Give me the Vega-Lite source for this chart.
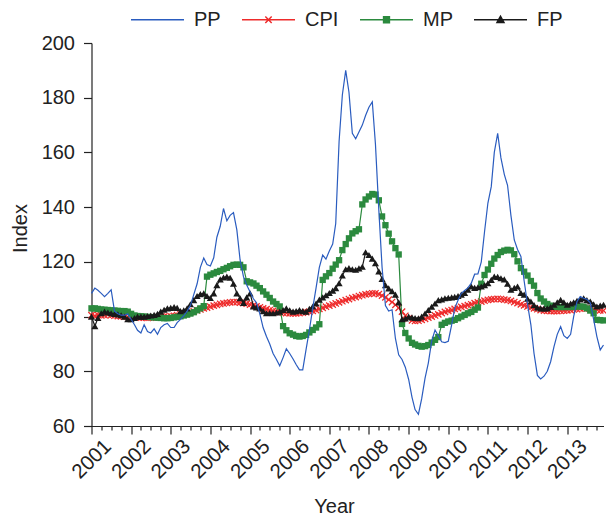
{
"$schema": "https://vega.github.io/schema/vega-lite/v6.json",
"width": 512, "height": 383,
"autosize": {"type": "none"},
"padding": {"left": 91.5, "top": 43, "right": 2.5, "bottom": 91},
"config": {"view": {"stroke": null}, "font": "Liberation Sans",
  "axis": {"grid": false, "domainColor": "#222", "tickColor": "#222", "labelColor": "#222", "titleColor": "#222", "titleFontWeight": "normal", "domainWidth": 1.2, "tickWidth": 1.2}},
"data": {"values": [
{"d":"2001-01-01","PP":108.5,"CPI":100.5,"MP":103,"FP":100},
{"d":"2001-02-01","PP":110.4,"CPI":100.3,"MP":103,"FP":96.5},
{"d":"2001-03-01","PP":109.6,"CPI":100.6,"MP":102.8,"FP":99.5},
{"d":"2001-04-01","PP":108.5,"CPI":100.4,"MP":102.6,"FP":101.2},
{"d":"2001-05-01","PP":107.3,"CPI":100.5,"MP":102.5,"FP":101.8},
{"d":"2001-06-01","PP":108.5,"CPI":100.7,"MP":102.4,"FP":101.5},
{"d":"2001-07-01","PP":109.8,"CPI":100.5,"MP":102.3,"FP":101.2},
{"d":"2001-08-01","PP":102,"CPI":100.3,"MP":102.2,"FP":101},
{"d":"2001-09-01","PP":101,"CPI":100.2,"MP":102.1,"FP":100.8},
{"d":"2001-10-01","PP":100.5,"CPI":100.1,"MP":102,"FP":100.5},
{"d":"2001-11-01","PP":100.5,"CPI":100,"MP":102,"FP":100},
{"d":"2001-12-01","PP":101,"CPI":99.9,"MP":101.8,"FP":99},
{"d":"2002-01-01","PP":99,"CPI":100,"MP":101,"FP":99},
{"d":"2002-02-01","PP":97,"CPI":99.8,"MP":100.4,"FP":99.5},
{"d":"2002-03-01","PP":95,"CPI":99.7,"MP":100.2,"FP":100},
{"d":"2002-04-01","PP":94,"CPI":99.6,"MP":100.1,"FP":100},
{"d":"2002-05-01","PP":97,"CPI":99.6,"MP":100,"FP":100},
{"d":"2002-06-01","PP":94.5,"CPI":99.5,"MP":99.9,"FP":100.2},
{"d":"2002-07-01","PP":94,"CPI":99.6,"MP":99.8,"FP":100.4},
{"d":"2002-08-01","PP":95.5,"CPI":99.7,"MP":99.7,"FP":100.6},
{"d":"2002-09-01","PP":93.5,"CPI":99.8,"MP":99.6,"FP":101},
{"d":"2002-10-01","PP":96,"CPI":99.9,"MP":99.5,"FP":101.8},
{"d":"2002-11-01","PP":97,"CPI":100,"MP":99.4,"FP":102.5},
{"d":"2002-12-01","PP":97.5,"CPI":100,"MP":99.4,"FP":103},
{"d":"2003-01-01","PP":96,"CPI":100.1,"MP":99.5,"FP":103.2},
{"d":"2003-02-01","PP":96,"CPI":100.3,"MP":99.7,"FP":103.5},
{"d":"2003-03-01","PP":97.8,"CPI":100.5,"MP":99.9,"FP":103.2},
{"d":"2003-04-01","PP":99,"CPI":100.8,"MP":100.1,"FP":102},
{"d":"2003-05-01","PP":100.3,"CPI":101,"MP":100.4,"FP":102.3},
{"d":"2003-06-01","PP":102,"CPI":101.3,"MP":100.7,"FP":103},
{"d":"2003-07-01","PP":104,"CPI":101.6,"MP":101.1,"FP":104.5},
{"d":"2003-08-01","PP":108,"CPI":101.9,"MP":101.6,"FP":106},
{"d":"2003-09-01","PP":112,"CPI":102.3,"MP":102.3,"FP":107.5},
{"d":"2003-10-01","PP":118,"CPI":102.6,"MP":103,"FP":108.2},
{"d":"2003-11-01","PP":121.4,"CPI":103,"MP":103.8,"FP":108.5},
{"d":"2003-12-01","PP":119,"CPI":103.3,"MP":114.6,"FP":107.5},
{"d":"2004-01-01","PP":118.5,"CPI":103.6,"MP":115.3,"FP":106.8},
{"d":"2004-02-01","PP":121.5,"CPI":104,"MP":115.8,"FP":108.5},
{"d":"2004-03-01","PP":129,"CPI":104.3,"MP":116.3,"FP":111.5},
{"d":"2004-04-01","PP":133,"CPI":104.6,"MP":116.7,"FP":113.6},
{"d":"2004-05-01","PP":139.5,"CPI":104.8,"MP":117.3,"FP":114.3},
{"d":"2004-06-01","PP":135,"CPI":105,"MP":117.8,"FP":114.6},
{"d":"2004-07-01","PP":137,"CPI":105.2,"MP":118.4,"FP":114.2},
{"d":"2004-08-01","PP":138,"CPI":105.3,"MP":118.9,"FP":112},
{"d":"2004-09-01","PP":131.7,"CPI":105.3,"MP":119,"FP":108.5},
{"d":"2004-10-01","PP":120.7,"CPI":105.1,"MP":118.9,"FP":106.7},
{"d":"2004-11-01","PP":114.6,"CPI":104.9,"MP":118,"FP":105},
{"d":"2004-12-01","PP":111.5,"CPI":104.7,"MP":112.9,"FP":107},
{"d":"2005-01-01","PP":109,"CPI":104.4,"MP":112.5,"FP":108.5},
{"d":"2005-02-01","PP":106.5,"CPI":104.1,"MP":112.1,"FP":103.7},
{"d":"2005-03-01","PP":105,"CPI":103.7,"MP":111.3,"FP":103.3},
{"d":"2005-04-01","PP":101,"CPI":103.4,"MP":110.4,"FP":103},
{"d":"2005-05-01","PP":96,"CPI":103,"MP":109.2,"FP":102},
{"d":"2005-06-01","PP":92.7,"CPI":102.7,"MP":108,"FP":101.2},
{"d":"2005-07-01","PP":90,"CPI":102.4,"MP":106.8,"FP":101.3},
{"d":"2005-08-01","PP":86.5,"CPI":102.1,"MP":105.5,"FP":101.2},
{"d":"2005-09-01","PP":84.3,"CPI":101.8,"MP":104.6,"FP":101.5},
{"d":"2005-10-01","PP":82,"CPI":101.6,"MP":103.7,"FP":101.8},
{"d":"2005-11-01","PP":85,"CPI":101.4,"MP":96.5,"FP":102.4},
{"d":"2005-12-01","PP":88.2,"CPI":101.3,"MP":95,"FP":103},
{"d":"2006-01-01","PP":86.5,"CPI":101.2,"MP":93.9,"FP":102.3},
{"d":"2006-02-01","PP":84.5,"CPI":101.2,"MP":93.4,"FP":101.8},
{"d":"2006-03-01","PP":82.5,"CPI":101.2,"MP":92.9,"FP":102},
{"d":"2006-04-01","PP":80.5,"CPI":101.3,"MP":92.7,"FP":102.4},
{"d":"2006-05-01","PP":80.5,"CPI":101.4,"MP":92.9,"FP":102},
{"d":"2006-06-01","PP":88,"CPI":101.6,"MP":93.3,"FP":101.8},
{"d":"2006-07-01","PP":95,"CPI":101.8,"MP":94.2,"FP":102.8},
{"d":"2006-08-01","PP":103,"CPI":102.1,"MP":95.1,"FP":103.7},
{"d":"2006-09-01","PP":110.5,"CPI":102.4,"MP":96,"FP":104.8},
{"d":"2006-10-01","PP":118,"CPI":102.8,"MP":97.2,"FP":106.2},
{"d":"2006-11-01","PP":122.5,"CPI":103.2,"MP":113.4,"FP":107},
{"d":"2006-12-01","PP":121,"CPI":103.6,"MP":114.7,"FP":107.8},
{"d":"2007-01-01","PP":124,"CPI":104,"MP":115.9,"FP":108.6},
{"d":"2007-02-01","PP":126.5,"CPI":104.4,"MP":117.5,"FP":109.5},
{"d":"2007-03-01","PP":134,"CPI":104.8,"MP":119,"FP":110.4},
{"d":"2007-04-01","PP":164,"CPI":105.2,"MP":120.6,"FP":112.2},
{"d":"2007-05-01","PP":181,"CPI":105.6,"MP":124.3,"FP":115},
{"d":"2007-06-01","PP":190,"CPI":106,"MP":126.5,"FP":117.3},
{"d":"2007-07-01","PP":182,"CPI":106.4,"MP":128.6,"FP":117.7},
{"d":"2007-08-01","PP":167,"CPI":106.8,"MP":130.4,"FP":117.3},
{"d":"2007-09-01","PP":165,"CPI":107.1,"MP":131.2,"FP":117.1},
{"d":"2007-10-01","PP":167.5,"CPI":107.5,"MP":131.9,"FP":117.6},
{"d":"2007-11-01","PP":170,"CPI":107.8,"MP":141,"FP":118.2},
{"d":"2007-12-01","PP":173.5,"CPI":108.1,"MP":142.8,"FP":123.5},
{"d":"2008-01-01","PP":176.5,"CPI":108.3,"MP":143.9,"FP":122.5},
{"d":"2008-02-01","PP":178.5,"CPI":108.5,"MP":144.8,"FP":121.2},
{"d":"2008-03-01","PP":163,"CPI":108.5,"MP":144.6,"FP":119.5},
{"d":"2008-04-01","PP":139,"CPI":108.2,"MP":142.5,"FP":116.5},
{"d":"2008-05-01","PP":118,"CPI":107.7,"MP":136.6,"FP":113.8},
{"d":"2008-06-01","PP":104,"CPI":107,"MP":133.4,"FP":111.5},
{"d":"2008-07-01","PP":102,"CPI":106.2,"MP":130.3,"FP":110.3},
{"d":"2008-08-01","PP":102.5,"CPI":105.3,"MP":127.5,"FP":109.3},
{"d":"2008-09-01","PP":92,"CPI":104.3,"MP":125,"FP":108},
{"d":"2008-10-01","PP":86,"CPI":103.2,"MP":122.7,"FP":105.2},
{"d":"2008-11-01","PP":84.3,"CPI":101.8,"MP":97.3,"FP":99},
{"d":"2008-12-01","PP":81.5,"CPI":100.3,"MP":94,"FP":99.3},
{"d":"2009-01-01","PP":77,"CPI":99.3,"MP":92,"FP":100},
{"d":"2009-02-01","PP":70.5,"CPI":98.6,"MP":90.4,"FP":99.7},
{"d":"2009-03-01","PP":66,"CPI":98.4,"MP":89.8,"FP":99.5},
{"d":"2009-04-01","PP":64.3,"CPI":98.5,"MP":89.3,"FP":99.4},
{"d":"2009-05-01","PP":70,"CPI":98.8,"MP":89,"FP":100},
{"d":"2009-06-01","PP":77.5,"CPI":99.2,"MP":89.2,"FP":101.1},
{"d":"2009-07-01","PP":83,"CPI":99.6,"MP":89.6,"FP":102.4},
{"d":"2009-08-01","PP":91,"CPI":100,"MP":90.5,"FP":103.6},
{"d":"2009-09-01","PP":95.1,"CPI":100.4,"MP":91.5,"FP":104.8},
{"d":"2009-10-01","PP":93,"CPI":100.8,"MP":92.5,"FP":106},
{"d":"2009-11-01","PP":90.8,"CPI":101.3,"MP":97,"FP":106.3},
{"d":"2009-12-01","PP":90.5,"CPI":101.7,"MP":97.7,"FP":106.7},
{"d":"2010-01-01","PP":91,"CPI":102.1,"MP":98.2,"FP":106.9},
{"d":"2010-02-01","PP":97,"CPI":102.4,"MP":98.5,"FP":107},
{"d":"2010-03-01","PP":103,"CPI":102.8,"MP":98.8,"FP":107.2},
{"d":"2010-04-01","PP":106,"CPI":103.1,"MP":99.4,"FP":107.5},
{"d":"2010-05-01","PP":108.5,"CPI":103.5,"MP":100,"FP":108},
{"d":"2010-06-01","PP":109.5,"CPI":103.8,"MP":100.6,"FP":108.6},
{"d":"2010-07-01","PP":110.5,"CPI":104.2,"MP":101.2,"FP":109.8},
{"d":"2010-08-01","PP":112.2,"CPI":104.5,"MP":101.7,"FP":111},
{"d":"2010-09-01","PP":115.5,"CPI":104.9,"MP":102.5,"FP":110.5},
{"d":"2010-10-01","PP":115.6,"CPI":105.2,"MP":103.3,"FP":110.7},
{"d":"2010-11-01","PP":120,"CPI":105.5,"MP":112,"FP":111},
{"d":"2010-12-01","PP":131,"CPI":105.8,"MP":115.2,"FP":111.5},
{"d":"2011-01-01","PP":141.5,"CPI":106.1,"MP":117.2,"FP":112.2},
{"d":"2011-02-01","PP":147.5,"CPI":106.3,"MP":119.3,"FP":113.4},
{"d":"2011-03-01","PP":160,"CPI":106.4,"MP":121.2,"FP":114.6},
{"d":"2011-04-01","PP":167,"CPI":106.5,"MP":122.5,"FP":114.5},
{"d":"2011-05-01","PP":158,"CPI":106.4,"MP":123.6,"FP":114},
{"d":"2011-06-01","PP":152,"CPI":106.2,"MP":124.1,"FP":113.6},
{"d":"2011-07-01","PP":148,"CPI":106,"MP":124.4,"FP":112},
{"d":"2011-08-01","PP":137,"CPI":105.7,"MP":124.2,"FP":109.8},
{"d":"2011-09-01","PP":128,"CPI":105.3,"MP":122.8,"FP":110.5},
{"d":"2011-10-01","PP":124.5,"CPI":104.9,"MP":120.2,"FP":111},
{"d":"2011-11-01","PP":122,"CPI":104.5,"MP":117.7,"FP":108.6},
{"d":"2011-12-01","PP":113,"CPI":104.1,"MP":116.4,"FP":108},
{"d":"2012-01-01","PP":104.5,"CPI":103.7,"MP":115,"FP":106.5},
{"d":"2012-02-01","PP":97,"CPI":103.3,"MP":113,"FP":105.5},
{"d":"2012-03-01","PP":86.5,"CPI":103,"MP":111.3,"FP":104.2},
{"d":"2012-04-01","PP":78.5,"CPI":102.7,"MP":108.6,"FP":103.3},
{"d":"2012-05-01","PP":77.2,"CPI":102.4,"MP":106.6,"FP":103},
{"d":"2012-06-01","PP":78.2,"CPI":102.2,"MP":105.5,"FP":103},
{"d":"2012-07-01","PP":80,"CPI":102.1,"MP":104.6,"FP":103},
{"d":"2012-08-01","PP":83.5,"CPI":102,"MP":104,"FP":103.5},
{"d":"2012-09-01","PP":89,"CPI":102,"MP":103.6,"FP":104.3},
{"d":"2012-10-01","PP":93.5,"CPI":102,"MP":103.5,"FP":105.2},
{"d":"2012-11-01","PP":96.3,"CPI":102.1,"MP":103.5,"FP":106.1},
{"d":"2012-12-01","PP":93,"CPI":102.2,"MP":103.5,"FP":105.2},
{"d":"2013-01-01","PP":92,"CPI":102.3,"MP":103.5,"FP":104.3},
{"d":"2013-02-01","PP":93.5,"CPI":102.4,"MP":103.5,"FP":104.8},
{"d":"2013-03-01","PP":100,"CPI":102.6,"MP":103.6,"FP":105.2},
{"d":"2013-04-01","PP":105.5,"CPI":102.7,"MP":103.7,"FP":105.8},
{"d":"2013-05-01","PP":107.3,"CPI":102.9,"MP":103.7,"FP":106.3},
{"d":"2013-06-01","PP":106.7,"CPI":103,"MP":103.6,"FP":106.7},
{"d":"2013-07-01","PP":106.3,"CPI":103,"MP":103,"FP":106},
{"d":"2013-08-01","PP":105,"CPI":102.9,"MP":102.2,"FP":105.5},
{"d":"2013-09-01","PP":99,"CPI":102.7,"MP":101.2,"FP":104.5},
{"d":"2013-10-01","PP":92.7,"CPI":102.5,"MP":98.8,"FP":103.7},
{"d":"2013-11-01","PP":87.8,"CPI":102.3,"MP":98.7,"FP":104},
{"d":"2013-12-01","PP":89.6,"CPI":102.2,"MP":98.6,"FP":104.3}
]},
"transform": [{"fold": ["PP", "CPI", "MP", "FP"], "as": ["series", "value"]}],
"encoding": {
  "x": {"field": "d", "type": "temporal",
    "scale": {"type": "utc", "domain": [{"year": 2001, "month": 1, "date": 1, "utc": true}, {"year": 2013, "month": 12, "date": 1, "utc": true}]},
    "axis": {"title": "Year", "tickCount": {"interval": "month", "step": 3},
      "labelExpr": "utcmonth(datum.value) === 0 ? utcFormat(datum.value, '%Y') : ''",
      "tickSize": {"condition": {"test": "utcmonth(datum.value) === 0", "value": 8}, "value": 4},
      "labelAngle": -45, "labelAlign": "center", "labelBaseline": "middle", "labelPadding": 25,
      "labelOverlap": false, "labelFlush": false, "labelFontSize": 20.5,
      "titleFontSize": 20, "titleX": 242.5, "titleY": 80, "titleBaseline": "middle", "titleAlign": "center"}},
  "y": {"field": "value", "type": "quantitative",
    "scale": {"domain": [60, 200], "nice": false, "zero": false},
    "axis": {"title": "Index", "values": [60, 80, 100, 120, 140, 160, 180, 200], "tickSize": 8, "labelPadding": 9,
      "labelFontSize": 20, "titleFontSize": 20, "titleX": -71.5, "titleY": 185, "titleBaseline": "middle", "titleAlign": "center"}}
},
"layer": [
  {"transform": [{"filter": "datum.series === 'CPI'"}], "mark": {"type": "line", "color": "#ee2b2b", "strokeWidth": 1}},
  {"transform": [{"filter": "datum.series === 'CPI'"}], "mark": {"type": "point", "shape": "M-1,-1L1,1M-1,1L1,-1", "filled": false, "color": "#ee2b2b", "size": 40, "strokeWidth": 1.3, "opacity": 1}},
  {"transform": [{"filter": "datum.series === 'MP'"}], "mark": {"type": "line", "color": "#2b8a3e", "strokeWidth": 1.2}},
  {"transform": [{"filter": "datum.series === 'MP'"}], "mark": {"type": "point", "shape": "square", "filled": true, "color": "#2b8a3e", "size": 40, "opacity": 1}},
  {"transform": [{"filter": "datum.series === 'FP'"}], "mark": {"type": "line", "color": "#1a1a1a", "strokeWidth": 1.2}},
  {"transform": [{"filter": "datum.series === 'FP'"}], "mark": {"type": "point", "shape": "triangle-up", "filled": true, "color": "#1a1a1a", "size": 50, "opacity": 1}},
  {"transform": [{"filter": "datum.series === 'PP'"}], "mark": {"type": "line", "color": "#2a5cbf", "strokeWidth": 1.2}},
  {"mark": {"type": "point", "opacity": 0, "filled": true},
    "encoding": {
      "fill": {"field": "series", "type": "nominal",
        "scale": {"domain": ["PP", "CPI", "MP", "FP"], "range": ["#2a5cbf", "#ee2b2b", "#2b8a3e", "#1a1a1a"]},
        "legend": {"title": null, "orient": "none", "legendX": 38.5, "legendY": -51, "direction": "horizontal", "symbolSize": 2809, "symbolStrokeWidth": 1.5, "symbolOpacity": 1, "labelFontSize": 20, "labelOffset": 9, "columnPadding": 18, "labelColor": "#222"}},
      "stroke": {"field": "series", "type": "nominal",
        "scale": {"domain": ["PP", "CPI", "MP", "FP"], "range": ["#2a5cbf", "#ee2b2b", "#2b8a3e", "#1a1a1a"]},
        "legend": {"title": null, "orient": "none", "legendX": 38.5, "legendY": -51, "direction": "horizontal", "symbolSize": 2809, "symbolStrokeWidth": 1.5, "symbolOpacity": 1, "labelFontSize": 20, "labelOffset": 9, "columnPadding": 18, "labelColor": "#222"}},
      "shape": {"field": "series", "type": "nominal",
        "scale": {"domain": ["PP", "CPI", "MP", "FP"], "range": ["M-1,0H1", "M-1,0H1M-0.12,-0.12L0.12,0.12M-0.12,0.12L0.12,-0.12", "M-1,0H1M-0.11,-0.11H0.11V0.11H-0.11Z", "M-1,0H1M-0.13,0.1L0,-0.13L0.13,0.1Z"]},
        "legend": {"title": null, "orient": "none", "legendX": 38.5, "legendY": -51, "direction": "horizontal", "symbolSize": 2809, "symbolStrokeWidth": 1.5, "symbolOpacity": 1, "labelFontSize": 20, "labelOffset": 9, "columnPadding": 18, "labelColor": "#222"}}
    }}
]
}
